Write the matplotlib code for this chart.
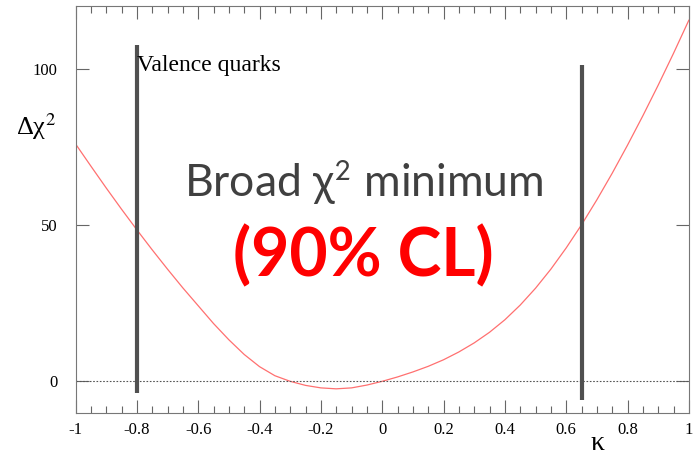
import numpy as np
import matplotlib
matplotlib.use("Agg")
import matplotlib.pyplot as plt
from matplotlib.ticker import MultipleLocator

# delta chi^2 vs kappa
kappa = [-1.00, -0.95, -0.90, -0.85, -0.80, -0.75, -0.70, -0.65, -0.60, -0.55,
         -0.50, -0.45, -0.40, -0.35, -0.30, -0.25, -0.20, -0.15, -0.10, -0.05,
         0.00, 0.05, 0.10, 0.15, 0.20, 0.25, 0.30, 0.35, 0.40, 0.45,
         0.50, 0.55, 0.60, 0.65, 0.70, 0.75, 0.80, 0.85, 0.90, 0.95, 1.00]
dchi2 = [76.0, 68.9, 61.9, 55.1, 48.5, 42.1, 35.9, 29.9, 24.2, 18.5,
         13.3, 8.6, 4.7, 1.8, 0.0, -1.3, -2.1, -2.4, -2.1, -1.2,
         0.0, 1.4, 3.0, 4.8, 6.9, 9.4, 12.3, 15.7, 19.7, 24.4,
         29.8, 35.9, 42.7, 50.1, 58.1, 66.6, 75.6, 85.0, 94.8, 105.0, 115.6]

# 90% CL bounds (vertical bars): position, bottom, top
bound_x = [-0.80, 0.65]
bound_lo = [-3.6, -5.9]
bound_hi = [107.7, 101.3]

plt.rcParams['mathtext.fontset'] = 'stix'

fig = plt.figure(figsize=(6.93, 4.62), dpi=100)
ax = fig.add_axes([0.109, 0.107, 0.885, 0.879])

ax.plot(kappa, dchi2, color='#ff7070', lw=0.9)
ax.axhline(0, color='#555555', lw=0.8, ls=(0, (1.5, 1.5)))
for bx, lo, hi in zip(bound_x, bound_lo, bound_hi):
    ax.plot([bx, bx], [lo, hi], color='#505050', lw=3.0, solid_capstyle='butt')

ax.set_xlim(-1, 1)
ax.set_ylim(-10, 120)

ax.xaxis.set_minor_locator(MultipleLocator(0.05))
ax.yaxis.set_major_locator(MultipleLocator(50))
ax.set_xticks([-1, -0.8, -0.6, -0.4, -0.2, 0, 0.2, 0.4, 0.6, 0.8, 1])
ax.set_xticklabels(['-1', '-0.8', '-0.6', '-0.4', '-0.2', '0', '0.2', '0.4', '0.6', '0.8', '1'])

ax.tick_params(axis='x', which='major', direction='in', length=9.5, width=0.8,
               color='#666666', top=True, pad=7)
ax.tick_params(axis='x', which='minor', direction='in', length=5, width=0.8,
               color='#666666', top=True)
ax.tick_params(axis='y', which='major', direction='in', length=9.5, width=0.8,
               color='#666666', right=True, pad=13)
for lab in ax.get_xticklabels() + ax.get_yticklabels():
    lab.set_fontfamily('Liberation Serif')
    lab.set_fontsize(12)
for s in ax.spines.values():
    s.set_color('#777777')
    s.set_linewidth(0.8)

fig.text(0.052, 0.725, 'Δχ$^2$', family='Liberation Serif', fontsize=19,
         ha='center', va='center')
fig.text(0.862, 0.04, 'κ', family='Liberation Serif', fontsize=20,
         ha='center', va='center')

ax.text(-0.8, 101, 'Valence quarks', family='Liberation Serif', fontsize=17,
        ha='left', va='center')
ax.text(-0.061, 64, r'Broad χ$^{\mathsf{2}}$ minimum', family='Lato', fontsize=32,
        color='#404040', ha='center', va='center')
ax.text(-0.060, 40, '(90% CL)', family='Lato', fontweight='bold', fontsize=47.5,
        color='#ff0000', ha='center', va='center')

fig.savefig('out.png', dpi=100)
